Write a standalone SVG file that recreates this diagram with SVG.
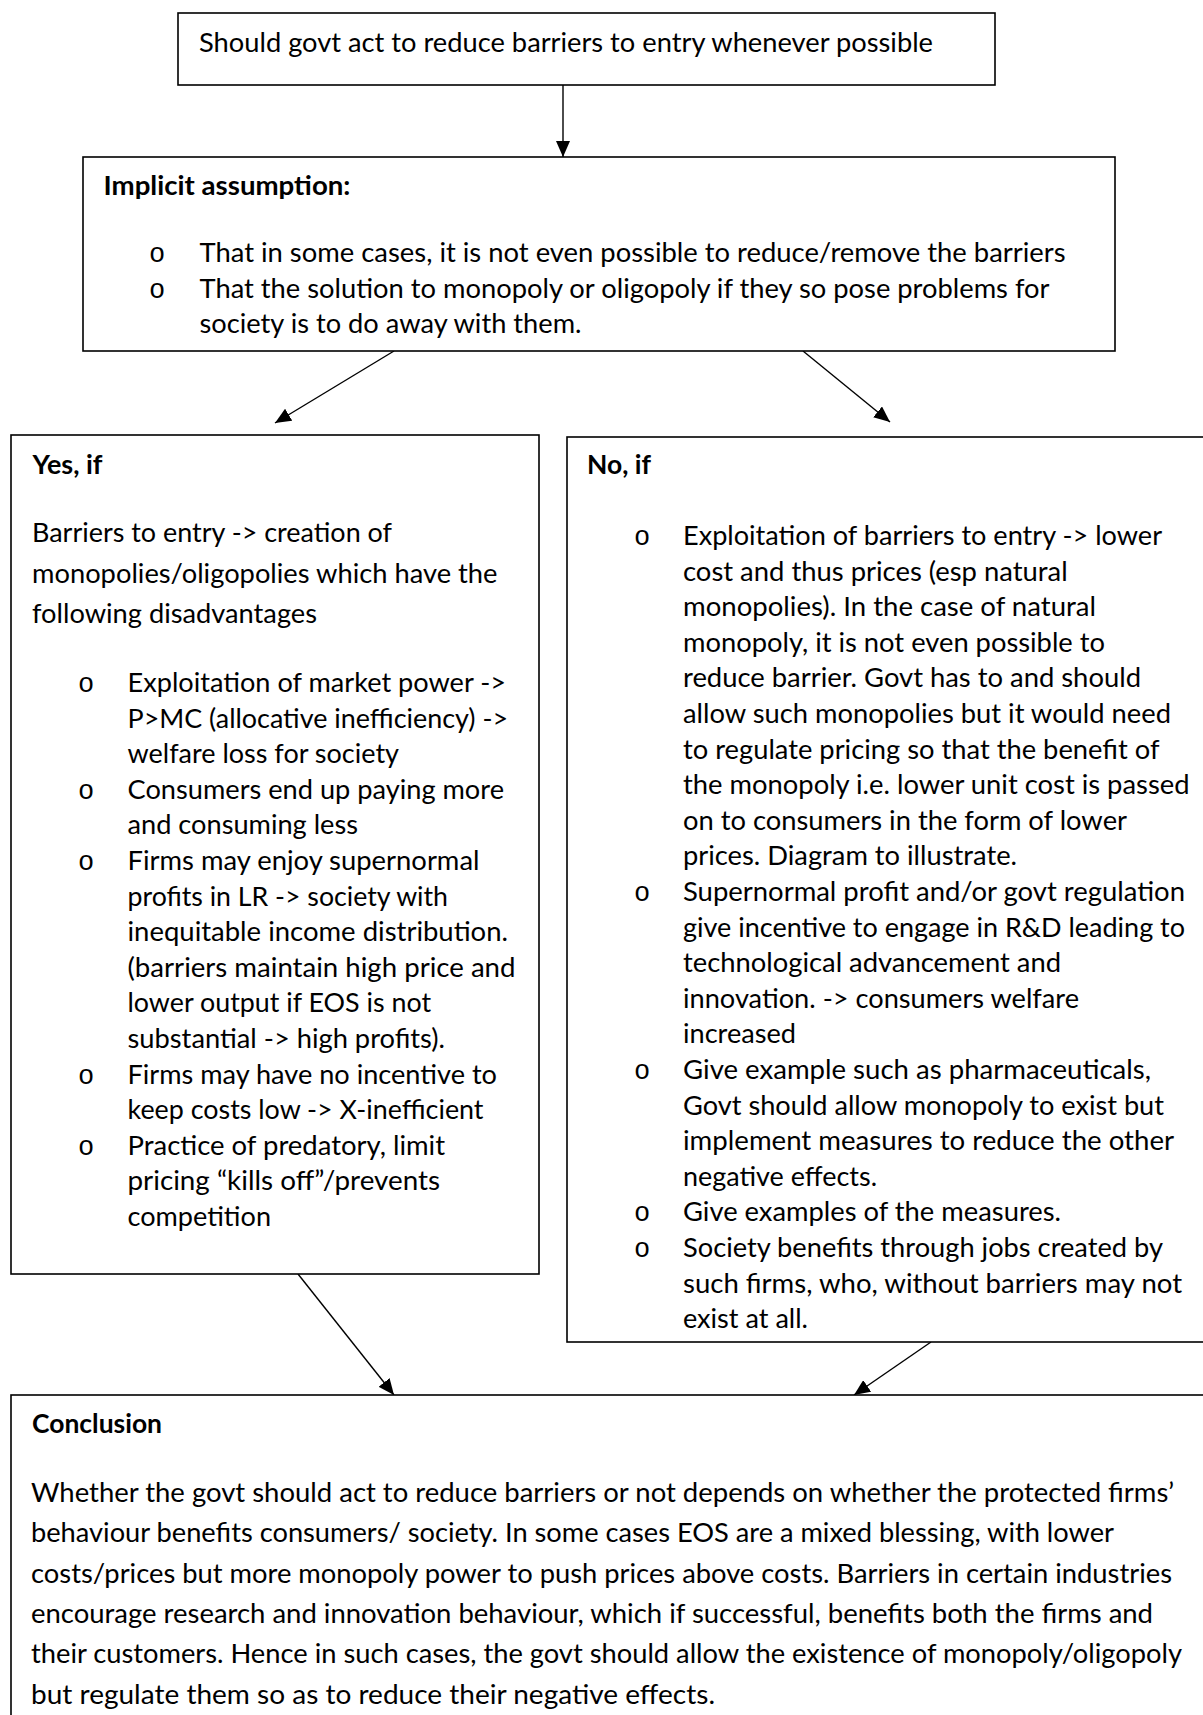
<svg xmlns="http://www.w3.org/2000/svg" width="1203" height="1715" viewBox="0 0 1203 1715">
<style>
.box{fill:#fff;stroke:#000;stroke-width:1.6}
.t{font-family:Lato,"Open Sans","Liberation Sans",sans-serif;font-size:27.5px;fill:#000}
.b{font-family:Lato,"Open Sans","Liberation Sans",sans-serif;font-size:27.5px;font-weight:bold;fill:#000}
.o{font-family:"Liberation Mono","DejaVu Sans Mono",monospace;font-size:27px;fill:#000}
.c{stroke:#000;stroke-width:1.4;fill:none;marker-end:url(#ah)}
</style>
<defs>
<marker id="ah" markerUnits="userSpaceOnUse" markerWidth="16" markerHeight="14" refX="16" refY="7" orient="auto">
<path d="M0,0 L16,7 L0,14 z" fill="#000"/>
</marker>
</defs>
<rect width="1203" height="1715" fill="#fff"/>

<g id="connectors">
<line class="c" x1="563" y1="85" x2="563" y2="157"/>
<line class="c" x1="394" y1="351" x2="275" y2="423"/>
<line class="c" x1="803" y1="351" x2="890" y2="422"/>
<line class="c" x1="298" y1="1274" x2="394" y2="1395"/>
<line class="c" x1="931" y1="1342" x2="854" y2="1395"/>
</g>

<g id="question">
<rect class="box" x="178" y="13" width="817" height="72"/>
<text class="t" x="199" y="52" textLength="734" lengthAdjust="spacingAndGlyphs">Should govt act to reduce barriers to entry whenever possible</text>
</g>

<g id="assumption">
<rect class="box" x="83" y="157" width="1032" height="194"/>
<text class="b" x="103.5" y="195" textLength="247" lengthAdjust="spacingAndGlyphs">Implicit assumption:</text>
<text class="o" x="149" y="262">o</text>
<text class="t" x="199.5" y="262" textLength="866" lengthAdjust="spacingAndGlyphs">That in some cases, it is not even possible to reduce/remove the barriers</text>
<text class="o" x="149" y="298">o</text>
<text class="t" x="199.5" y="298" textLength="850" lengthAdjust="spacingAndGlyphs">That the solution to monopoly or oligopoly if they so pose problems for</text>
<text class="t" x="199.5" y="333" textLength="382" lengthAdjust="spacingAndGlyphs">society is to do away with them.</text>
</g>

<g id="yes">
<rect class="box" x="11" y="435" width="528" height="839"/>
<text class="b" x="32.5" y="474" textLength="70" lengthAdjust="spacingAndGlyphs">Yes, if</text>
<text class="t" x="32" y="542" textLength="360" lengthAdjust="spacingAndGlyphs">Barriers to entry -&gt; creation of</text>
<text class="t" x="32" y="583" textLength="465.5" lengthAdjust="spacingAndGlyphs">monopolies/oligopolies which have the</text>
<text class="t" x="32" y="623" textLength="285" lengthAdjust="spacingAndGlyphs">following disadvantages</text>
<text class="o" x="78" y="692">o</text>
<text class="t" x="127.5" y="692" textLength="378.5" lengthAdjust="spacingAndGlyphs">Exploitation of market power -&gt;</text>
<text class="t" x="127.5" y="727.6" textLength="380.5" lengthAdjust="spacingAndGlyphs">P&gt;MC (allocative inefficiency) -&gt;</text>
<text class="t" x="127.5" y="763.2" textLength="271.5" lengthAdjust="spacingAndGlyphs">welfare loss for society</text>
<text class="o" x="78" y="798.8">o</text>
<text class="t" x="127.5" y="798.8" textLength="376.5" lengthAdjust="spacingAndGlyphs">Consumers end up paying more</text>
<text class="t" x="127.5" y="834.4" textLength="230.5" lengthAdjust="spacingAndGlyphs">and consuming less</text>
<text class="o" x="78" y="870">o</text>
<text class="t" x="127.5" y="870" textLength="352" lengthAdjust="spacingAndGlyphs">Firms may enjoy supernormal</text>
<text class="t" x="127.5" y="905.6" textLength="320.5" lengthAdjust="spacingAndGlyphs">profits in LR -&gt; society with</text>
<text class="t" x="127.5" y="941.2" textLength="380.5" lengthAdjust="spacingAndGlyphs">inequitable income distribution.</text>
<text class="t" x="127.5" y="976.8" textLength="388" lengthAdjust="spacingAndGlyphs">(barriers maintain high price and</text>
<text class="t" x="127.5" y="1012.4" textLength="303.5" lengthAdjust="spacingAndGlyphs">lower output if EOS is not</text>
<text class="t" x="127.5" y="1048" textLength="317.5" lengthAdjust="spacingAndGlyphs">substantial -&gt; high profits).</text>
<text class="o" x="78" y="1083.6">o</text>
<text class="t" x="127.5" y="1083.6" textLength="369.5" lengthAdjust="spacingAndGlyphs">Firms may have no incentive to</text>
<text class="t" x="127.5" y="1119.2" textLength="356" lengthAdjust="spacingAndGlyphs">keep costs low -&gt; X-inefficient</text>
<text class="o" x="78" y="1154.8">o</text>
<text class="t" x="127.5" y="1154.8" textLength="317.5" lengthAdjust="spacingAndGlyphs">Practice of predatory, limit</text>
<text class="t" x="127.5" y="1190.4" textLength="312.5" lengthAdjust="spacingAndGlyphs">pricing “kills off”/prevents</text>
<text class="t" x="127.5" y="1226" textLength="143.5" lengthAdjust="spacingAndGlyphs">competition</text>
</g>

<g id="no">
<rect class="box" x="567" y="437" width="640" height="905"/>
<text class="b" x="587" y="474" textLength="64" lengthAdjust="spacingAndGlyphs">No, if</text>
<text class="o" x="634" y="545">o</text>
<text class="t" x="683" y="545" textLength="479" lengthAdjust="spacingAndGlyphs">Exploitation of barriers to entry -&gt; lower</text>
<text class="t" x="683" y="580.6" textLength="384.7" lengthAdjust="spacingAndGlyphs">cost and thus prices (esp natural</text>
<text class="t" x="683" y="616.2" textLength="413" lengthAdjust="spacingAndGlyphs">monopolies). In the case of natural</text>
<text class="t" x="683" y="651.8" textLength="422" lengthAdjust="spacingAndGlyphs">monopoly, it is not even possible to</text>
<text class="t" x="683" y="687.4" textLength="458" lengthAdjust="spacingAndGlyphs">reduce barrier. Govt has to and should</text>
<text class="t" x="683" y="723" textLength="488" lengthAdjust="spacingAndGlyphs">allow such monopolies but it would need</text>
<text class="t" x="683" y="758.6" textLength="476.5" lengthAdjust="spacingAndGlyphs">to regulate pricing so that the benefit of</text>
<text class="t" x="683" y="794.2" textLength="506.5" lengthAdjust="spacingAndGlyphs">the monopoly i.e. lower unit cost is passed</text>
<text class="t" x="683" y="829.8" textLength="444" lengthAdjust="spacingAndGlyphs">on to consumers in the form of lower</text>
<text class="t" x="683" y="865.4" textLength="334" lengthAdjust="spacingAndGlyphs">prices. Diagram to illustrate.</text>
<text class="o" x="634" y="901">o</text>
<text class="t" x="683" y="901" textLength="502" lengthAdjust="spacingAndGlyphs">Supernormal profit and/or govt regulation</text>
<text class="t" x="683" y="936.6" textLength="502" lengthAdjust="spacingAndGlyphs">give incentive to engage in R&amp;D leading to</text>
<text class="t" x="683" y="972.2" textLength="378" lengthAdjust="spacingAndGlyphs">technological advancement and</text>
<text class="t" x="683" y="1007.8" textLength="396" lengthAdjust="spacingAndGlyphs">innovation. -&gt; consumers welfare</text>
<text class="t" x="683" y="1043.4" textLength="113" lengthAdjust="spacingAndGlyphs">increased</text>
<text class="o" x="634" y="1079">o</text>
<text class="t" x="683" y="1079" textLength="468" lengthAdjust="spacingAndGlyphs">Give example such as pharmaceuticals,</text>
<text class="t" x="683" y="1114.6" textLength="481" lengthAdjust="spacingAndGlyphs">Govt should allow monopoly to exist but</text>
<text class="t" x="683" y="1150.2" textLength="491" lengthAdjust="spacingAndGlyphs">implement measures to reduce the other</text>
<text class="t" x="683" y="1185.8" textLength="194" lengthAdjust="spacingAndGlyphs">negative effects.</text>
<text class="o" x="634" y="1221.4">o</text>
<text class="t" x="683" y="1221.4" textLength="378" lengthAdjust="spacingAndGlyphs">Give examples of the measures.</text>
<text class="o" x="634" y="1257">o</text>
<text class="t" x="683" y="1257" textLength="480" lengthAdjust="spacingAndGlyphs">Society benefits through jobs created by</text>
<text class="t" x="683" y="1292.6" textLength="499" lengthAdjust="spacingAndGlyphs">such firms, who, without barriers may not</text>
<text class="t" x="683" y="1328.2" textLength="125" lengthAdjust="spacingAndGlyphs">exist at all.</text>
</g>

<g id="conclusion">
<rect class="box" x="11" y="1395" width="1200" height="340"/>
<text class="b" x="32" y="1433" textLength="130" lengthAdjust="spacingAndGlyphs">Conclusion</text>
<text class="t" x="31" y="1502" textLength="1143" lengthAdjust="spacingAndGlyphs">Whether the govt should act to reduce barriers or not depends on whether the protected firms’</text>
<text class="t" x="31" y="1542.3" textLength="1083" lengthAdjust="spacingAndGlyphs">behaviour benefits consumers/ society. In some cases EOS are a mixed blessing, with lower</text>
<text class="t" x="31" y="1582.6" textLength="1141" lengthAdjust="spacingAndGlyphs">costs/prices but more monopoly power to push prices above costs. Barriers in certain industries</text>
<text class="t" x="31" y="1622.9" textLength="1122" lengthAdjust="spacingAndGlyphs">encourage research and innovation behaviour, which if successful, benefits both the firms and</text>
<text class="t" x="31" y="1663.2" textLength="1151" lengthAdjust="spacingAndGlyphs">their customers. Hence in such cases, the govt should allow the existence of monopoly/oligopoly</text>
<text class="t" x="31" y="1703.5" textLength="684" lengthAdjust="spacingAndGlyphs">but regulate them so as to reduce their negative effects.</text>
</g>
</svg>
